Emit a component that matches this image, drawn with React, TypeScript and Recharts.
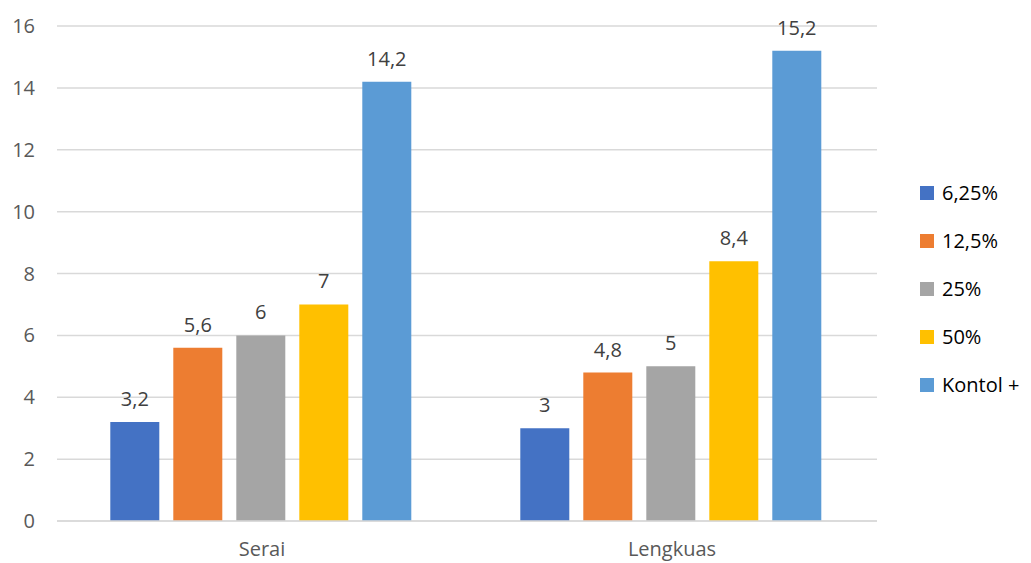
import React from "react";
import { BarChart, Bar, XAxis, YAxis, CartesianGrid, LabelList } from "recharts";

const categories = ["Serai", "Lengkuas"];
const seriesNames = ["6,25%", "12,5%", "25%", "50%", "Kontol +"];
const s1 = [3.2, 3];
const s2 = [5.6, 4.8];
const s3 = [6, 5];
const s4 = [7, 8.4];
const s5 = [14.2, 15.2];
const yTicks = [0, 2, 4, 6, 8, 10, 12, 14, 16];
const colors = ["#4472c4", "#ed7d31", "#a5a5a5", "#ffc000", "#5b9bd5"];

const allSeries = [s1, s2, s3, s4, s5];
const data = categories.map((c, i) => {
  const row: Record<string, any> = { name: c };
  seriesNames.forEach((s, j) => {
    row["k" + j] = allSeries[j][i];
  });
  return row;
});

const FONT = "'Open Sans', Lato, sans-serif";
const fmt = (v: any) => String(v).replace(".", ",");

export default function App() {
  return (
    <div style={{ margin: "-8px 0 0 -8px", width: 1031, height: 563, background: "#fff", position: "relative", overflow: "hidden" }}>
      <BarChart
        width={1031}
        height={563}
        data={data}
        margin={{ top: 26, right: 154, bottom: 12, left: 0 }}
        barCategoryGap="13%"
        barGap={14}
        style={{ fontFamily: FONT }}
      >
        <CartesianGrid vertical={false} stroke="#d9d9d9" strokeWidth={1.5} />
        <XAxis
          dataKey="name"
          tickLine={false}
          axisLine={{ stroke: "#d9d9d9", strokeWidth: 1.5 }}
          tickSize={0}
          tickMargin={21}
          tick={{ fill: "#595959", fontSize: 20, fontFamily: FONT }}
        />
        <YAxis
          width={57}
          domain={[0, 16]}
          ticks={yTicks}
          tickLine={false}
          axisLine={false}
          tickSize={0}
          tickMargin={22}
          tick={{ fill: "#595959", fontSize: 20, fontFamily: FONT }}
        />
        {seriesNames.map((n, i) => (
          <Bar key={n} dataKey={"k" + i} name={n} fill={colors[i]} isAnimationActive={false}>
            <LabelList
              dataKey={"k" + i}
              position="top"
              offset={16}
              formatter={fmt}
              style={{ fill: "#404040", fontSize: 20, fontFamily: FONT }}
            />
          </Bar>
        ))}
      </BarChart>
      <div style={{ position: "absolute", left: 920, top: 169, fontFamily: FONT }}>
        {seriesNames.map((n, i) => (
          <div key={n} style={{ display: "flex", alignItems: "center", height: 48 }}>
            <div style={{ width: 14, height: 14, background: colors[i], marginRight: 8 }} />
            <span style={{ fontSize: 20, color: "#000", lineHeight: "48px", whiteSpace: "nowrap" }}>{n}</span>
          </div>
        ))}
      </div>
    </div>
  );
}
